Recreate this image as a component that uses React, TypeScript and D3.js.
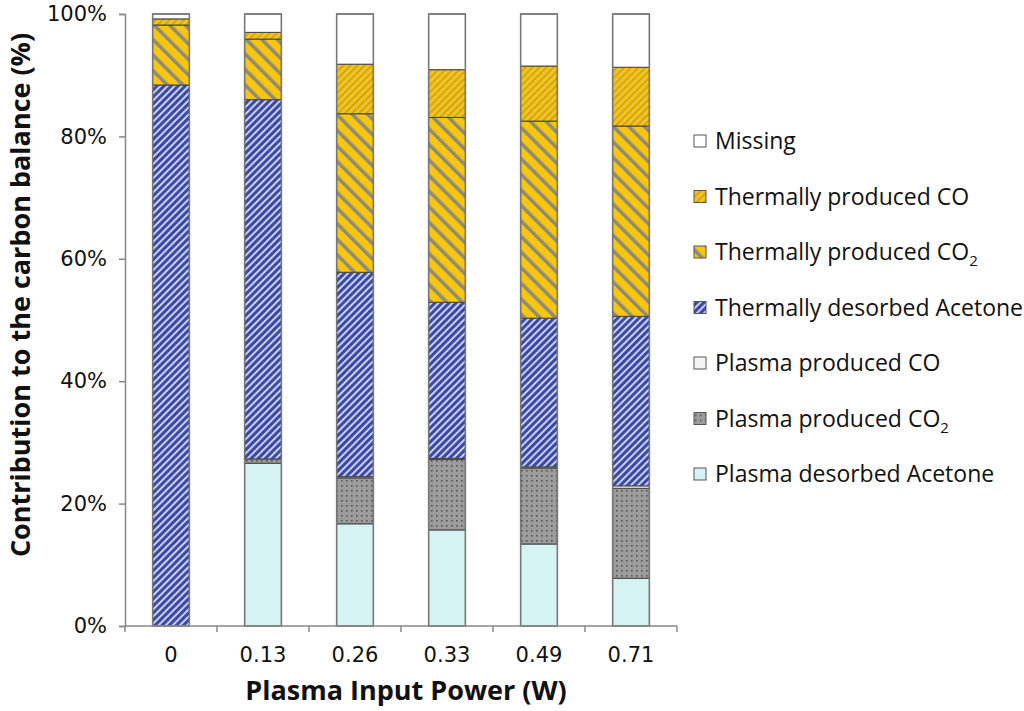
import React, { useEffect, useRef } from "react";
import * as d3 from "d3";

// categories (plasma input power, W)
const powers = ["0", "0.13", "0.26", "0.33", "0.49", "0.71"];

// contribution of each fraction to the carbon balance (%), bottom to top
const plasmaAcetone = [0, 26.6, 16.7, 15.7, 13.4, 7.8];
const plasmaCO2 = [0, 0.7, 7.5, 11.5, 12.4, 14.7];
const plasmaCO = [0, 0, 0.2, 0.2, 0.2, 0.4];
const thermalAcetone = [88.4, 58.7, 33.4, 25.5, 24.3, 27.7];
const thermalCO2 = [9.8, 9.9, 25.9, 30.2, 32.2, 31.1];
const thermalCO = [1.0, 1.1, 8.1, 7.8, 9.0, 9.6];
const missing = [0.8, 3.0, 8.2, 9.1, 8.5, 8.7];

const yTicks = [0, 20, 40, 60, 80, 100];

const seriesKeys = [
  "plasmaAcetone",
  "plasmaCO2",
  "plasmaCO",
  "thermalAcetone",
  "thermalCO2",
  "thermalCO",
  "missing",
];

const fills: Record<string, string> = {
  plasmaAcetone: "#d5f3f3",
  plasmaCO2: "url(#dots)",
  plasmaCO: "#f4f4f4",
  thermalAcetone: "url(#blueHatch)",
  thermalCO2: "url(#yellowWide)",
  thermalCO: "url(#yellowFine)",
  missing: "#ffffff",
};

// legend order (top to bottom), with optional subscript
const legendItems = [
  { key: "missing", label: "Missing", sub: "" },
  { key: "thermalCO", label: "Thermally produced CO", sub: "" },
  { key: "thermalCO2", label: "Thermally produced  CO", sub: "2" },
  { key: "thermalAcetone", label: "Thermally desorbed Acetone", sub: "" },
  { key: "plasmaCO", label: "Plasma produced CO", sub: "" },
  { key: "plasmaCO2", label: "Plasma produced  CO", sub: "2" },
  { key: "plasmaAcetone", label: "Plasma desorbed Acetone", sub: "" },
];

const textFont = "'Open Sans', sans-serif";
const numFont = "'DejaVu Sans', sans-serif";

export default function App() {
  const ref = useRef<SVGGElement>(null);

  const margin = { top: 14, left: 125 };
  const width = 552;
  const height = 612;

  const rows = powers.map((p, i) => ({
    power: p,
    plasmaAcetone: plasmaAcetone[i],
    plasmaCO2: plasmaCO2[i],
    plasmaCO: plasmaCO[i],
    thermalAcetone: thermalAcetone[i],
    thermalCO2: thermalCO2[i],
    thermalCO: thermalCO[i],
    missing: missing[i],
  }));

  const x = d3.scaleBand().domain(powers).range([0, width]).paddingInner(0.6).paddingOuter(0.3);
  const y = d3.scaleLinear().domain([0, 100]).range([height, 0]);

  useEffect(() => {
    const g = d3.select(ref.current);
    g.selectAll("*").remove();

    const stack = d3.stack<any>().keys(seriesKeys);
    const layers = stack(rows);

    layers.forEach((layer) => {
      g.append("g")
        .selectAll("rect")
        .data(layer.filter((d) => d[1] - d[0] > 0))
        .join("rect")
        .attr("x", (d) => x(d.data.power)!)
        .attr("width", x.bandwidth())
        .attr("y", (d) => y(d[1]))
        .attr("height", (d) => y(d[0]) - y(d[1]))
        .attr("fill", fills[layer.key])
        .attr("stroke", "#444")
        .attr("stroke-width", 1);
    });

    // outline of each bar
    g.append("g")
      .selectAll("rect")
      .data(rows)
      .join("rect")
      .attr("x", (d) => x(d.power)!)
      .attr("width", x.bandwidth())
      .attr("y", y(100))
      .attr("height", y(0) - y(100))
      .attr("fill", "none")
      .attr("stroke", "#777")
      .attr("stroke-width", 1.5);

    // y axis
    const yAxis = g
      .append("g")
      .call(
        d3
          .axisLeft(y)
          .tickValues(yTicks)
          .tickSize(6)
          .tickPadding(12)
          .tickFormat((d) => d + "%")
      );
    yAxis.select(".domain").attr("stroke", "#888").attr("stroke-width", 1.5);
    yAxis.selectAll(".tick line").attr("stroke", "#888").attr("stroke-width", 1.5);
    yAxis
      .selectAll(".tick text")
      .attr("font-family", numFont)
      .attr("font-size", 21)
      .attr("fill", "#111");

    // x axis: ticks sit between the categories
    const xAxis = g.append("g").attr("transform", `translate(0,${height})`);
    xAxis
      .append("line")
      .attr("x1", 0)
      .attr("x2", width)
      .attr("stroke", "#888")
      .attr("stroke-width", 1.5);
    const step = x.step();
    d3.range(powers.length + 1).forEach((i) => {
      xAxis
        .append("line")
        .attr("x1", i * step)
        .attr("x2", i * step)
        .attr("y1", 0)
        .attr("y2", 6)
        .attr("stroke", "#888")
        .attr("stroke-width", 1.5);
    });
    xAxis
      .selectAll("text")
      .data(powers)
      .join("text")
      .attr("x", (d) => x(d)! + x.bandwidth() / 2)
      .attr("y", 36)
      .attr("text-anchor", "middle")
      .attr("font-family", numFont)
      .attr("font-size", 21)
      .attr("fill", "#111")
      .text((d) => d);
  }, []);

  return (
    <svg
      width={1024}
      height={711}
      style={{ position: "absolute", left: 0, top: 0, background: "#fff" }}
    >
      <defs>
        <pattern id="blueHatch" width="5" height="5" patternUnits="userSpaceOnUse" patternTransform="rotate(45)">
          <rect width="5" height="5" fill="#3c4aa3" />
          <rect width="2" height="5" fill="#c9cff2" />
        </pattern>
        <pattern id="yellowFine" width="5" height="5" patternUnits="userSpaceOnUse" patternTransform="rotate(45)">
          <rect width="5" height="5" fill="#f3c517" />
          <rect width="1.5" height="5" fill="#c79b2a" />
        </pattern>
        <pattern id="yellowWide" width="11" height="11" patternUnits="userSpaceOnUse" patternTransform="rotate(-45)">
          <rect width="11" height="11" fill="#f7c60f" />
          <rect width="3.5" height="11" fill="#8f8a78" />
        </pattern>
        <pattern id="dots" width="5" height="5" patternUnits="userSpaceOnUse">
          <rect width="5" height="5" fill="#9c9c9c" />
          <rect x="1" y="1" width="1.6" height="1.6" fill="#555" />
        </pattern>
      </defs>
      <g ref={ref} transform={`translate(${margin.left},${margin.top})`} />
      <text
        transform="translate(30,295) rotate(-90)"
        textAnchor="middle"
        fontFamily={textFont}
        fontWeight="bold"
        fontSize={27}
        fill="#111"
      >
        Contribution to the carbon balance (%)
      </text>
      <text x={406} y={700} textAnchor="middle" fontFamily={textFont} fontWeight="bold" fontSize={27} fill="#111">
        Plasma Input Power (W)
      </text>
      <g transform="translate(694,0)">
        {legendItems.map((item, i) => {
          const cy = 141 + i * 55.5;
          return (
            <g key={item.key} transform={`translate(0,${cy})`}>
              <rect x={0} y={-6} width={12} height={12} fill={fills[item.key]} stroke="#555" strokeWidth={1} />
              <text x={21} y={8} fontFamily={textFont} fontSize={23} fill="#111">
                {item.label}
                {item.sub && (
                  <tspan dy={6} fontSize={15}>
                    {item.sub}
                  </tspan>
                )}
              </text>
            </g>
          );
        })}
      </g>
    </svg>
  );
}
